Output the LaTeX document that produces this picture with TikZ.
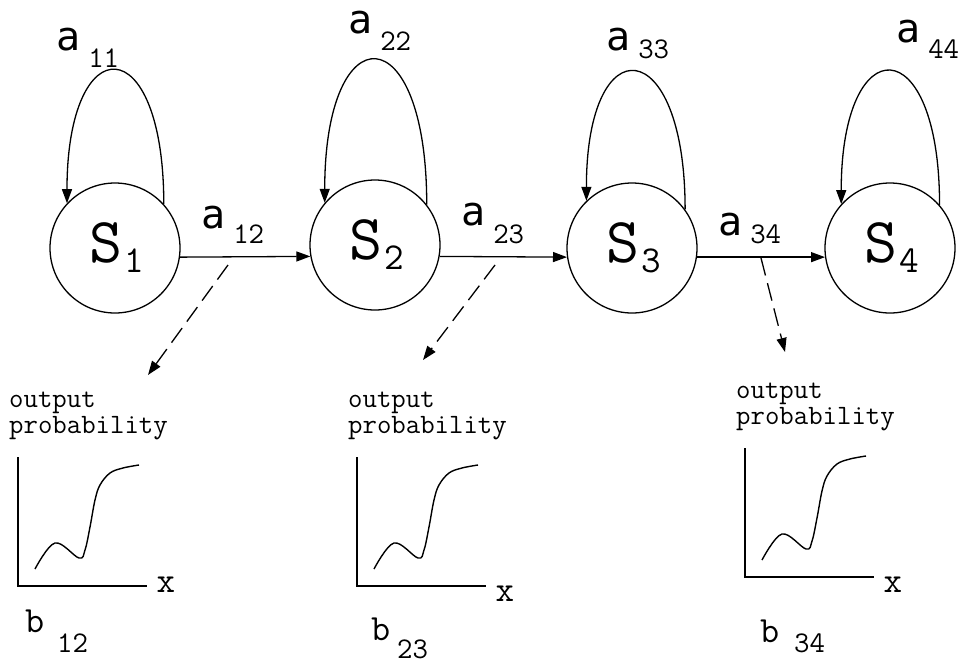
\documentclass[tikz,border=0pt]{standalone}
\usepackage{fontspec}
\newfontfamily\sansmono{DejaVu Sans Mono}
\usetikzlibrary{arrows.meta}

\newcommand{\digits}[2]{{\ttfamily\fontsize{#2}{#2}\selectfont #1}}
\newcommand{\alabel}[2]{{\sansmono\fontsize{40}{40}\selectfont a}\hspace{8pt}\raisebox{-#2pt}{\digits{#1}{30}}}
\newcommand{\slabel}[1]{\kern4pt{\ttfamily\fontsize{64}{64}\selectfont S}\kern2pt\raisebox{-10pt}{\digits{#1}{38}}}

\tikzset{
  state/.style={circle, draw, line width=1.3pt, minimum size=130pt, inner sep=0pt},
  trans/.style={-{Triangle[length=14pt,width=10pt]}, line width=1.3pt},
  emit/.style={trans, dash pattern=on 18pt off 8pt},
  lbl/.style={anchor=base west, inner sep=0pt},
  axis/.style={line width=1.6pt},
  density/.style={line width=1.4pt},
  ttsize/.style={font=\ttfamily\fontsize{#1}{#1}\selectfont},
}

\begin{document}
\begin{tikzpicture}[x=1pt, y=-1pt, font=\ttfamily]
  \useasboundingbox (0,0) rectangle (968,664);

  % states
  \node[state] (S1) at (115,248) {\slabel{1}};
  \node[state] (S2) at (375,245) {\slabel{2}};
  \node[state] (S3) at (632,248) {\slabel{3}};
  \node[state] (S4) at (890,248) {\slabel{4}};

  % self loops
  \draw[trans] (S1.42) .. controls +(0,-177) and +(0,-177) .. (S1.137);
  \draw[trans] (S2.38) .. controls +(0,-191) and +(0,-191) .. (S2.140);
  \draw[trans] (S3.36) .. controls +(0,-177) and +(0,-177) .. (S3.134);
  \draw[trans] (S4.41) .. controls +(0,-177) and +(0,-177) .. (S4.138);

  % forward transitions
  \draw[trans] (S1.-8) -- (S2.190.5);
  \draw[trans] (S2.-10.5) -- (S3.188);
  \draw[trans] (S3.-8) -- (S4.188);

  % transition labels
  \node[lbl] (a11) at (56,50) {\alabel{11}{17}};
  \node[lbl] (a22) at (348,33) {\alabel{22}{17}};
  \node[lbl] (a33) at (606,50) {\alabel{33}{8}};
  \node[lbl] (a44) at (896,42) {\alabel{44}{16}};
  \node[lbl] (a12) at (201,228) {\alabel{12}{15}};
  \node[lbl] (a23) at (461,225) {\alabel{23}{18}};
  \node[lbl] (a34) at (718,235) {\alabel{34}{8}};

  % emissions
  \coordinate (e12) at (228,265);
  \coordinate (t12) at (148,375);
  \coordinate (e23) at (495,265);
  \coordinate (t23) at (423,360);
  \coordinate (e34) at (761,258);
  \coordinate (t34) at (785,352);
  \draw[emit] (e12) -- (t12);
  \draw[emit] (e23) -- (t23);
  \draw[emit] (e34) -- (t34);

  % output probability panels
  \foreach \n/\ox/\oy/\xy/\bx/\by/\sx/\sy in
      {12/18/586/-1.5/7/46/39/66, 23/357/586/7.5/14/54/40/72, 34/745/577/7.5/15/65/49/75} {
    \begin{scope}[shift={(\ox,\oy)}]
      \draw[axis] (0,-129) -- (0,0) -- (129,0);
      \draw[density] plot[smooth, tension=0.6] coordinates
        {(17,-17) (37,-43) (61,-28) (67,-36) (72,-59) (77,-86) (82,-101) (92,-113) (105,-118) (121,-121)};
      \node[lbl, ttsize=28] (out\n) at (-9,-179) {output};
      \node[lbl, ttsize=28] (prob\n) at (-9,-153) {probability};
      \node[ttsize=36, inner sep=0pt] (x\n) at (148,\xy) {x};
      \node[lbl, ttsize=37] (b\n) at (\bx,\by) {b};
      \node[lbl] (bs\n) at (\sx,\sy) {\digits{\n}{30}};
    \end{scope}
  }
\end{tikzpicture}
\end{document}
